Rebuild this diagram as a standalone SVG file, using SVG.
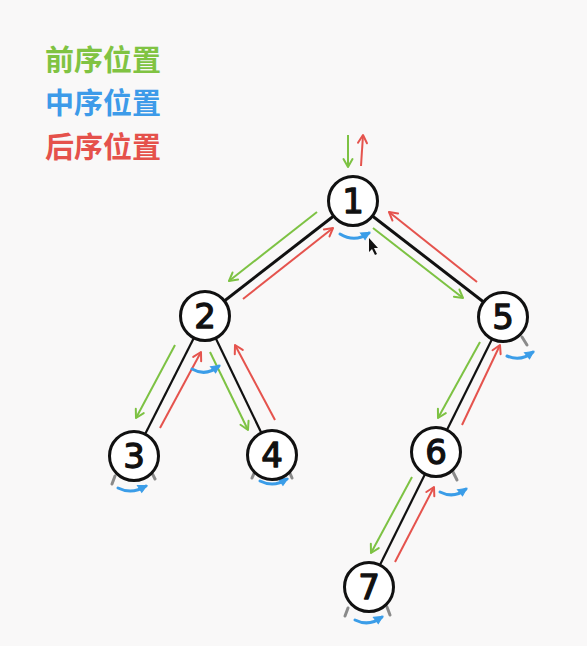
<svg xmlns="http://www.w3.org/2000/svg" width="587" height="646" viewBox="0 0 587 646">
<defs>
<style>
.node circle{fill:#ffffff;stroke:#111;stroke-width:3}
.node text{font-family:"DejaVu Sans","Liberation Sans",sans-serif;font-size:34px;font-weight:normal;fill:#111;stroke:#111;stroke-width:1.3;stroke-linejoin:round;text-anchor:middle}
.edge{stroke:#111;stroke-width:2.2;fill:none}
.edge.thick{stroke-width:3}
.g{stroke:#7dc243;stroke-width:2;fill:none;marker-end:url(#mg)}
.r{stroke:#e5534d;stroke-width:2;fill:none;marker-end:url(#mr)}
.b{stroke:#3b9de8;stroke-width:3;fill:none;marker-end:url(#mb);stroke-linecap:round}
.stub{stroke:#8a8a8a;stroke-width:3;stroke-linecap:round}
.legend{font-family:"Noto Sans CJK SC","Noto Sans",sans-serif;font-size:29px;font-weight:bold}
</style>
<marker id="mg" markerUnits="userSpaceOnUse" markerWidth="14" markerHeight="14" viewBox="-10 -7 14 14" refX="0" refY="0" orient="auto"><path d="M-8,-4.5 L0,0 L-8,4.5" fill="none" stroke="#7dc243" stroke-width="2" stroke-linecap="round" stroke-linejoin="round"/></marker>
<marker id="mr" markerUnits="userSpaceOnUse" markerWidth="14" markerHeight="14" viewBox="-10 -7 14 14" refX="0" refY="0" orient="auto"><path d="M-8,-4.5 L0,0 L-8,4.5" fill="none" stroke="#e5534d" stroke-width="2" stroke-linecap="round" stroke-linejoin="round"/></marker>
<marker id="mb" markerUnits="userSpaceOnUse" markerWidth="14" markerHeight="14" viewBox="-10 -7 14 14" refX="0" refY="0" orient="auto"><path d="M-7,-5 L1,0 L-7,3 Z" fill="#3b9de8" stroke="#3b9de8" stroke-width="1"/></marker>
</defs>
<rect width="587" height="646" fill="#f9f8f8"/>

<g id="legend">
<text class="legend" x="45" y="71" fill="#80c342">前序位置</text>
<text class="legend" x="45" y="114" fill="#3d9be9">中序位置</text>
<text class="legend" x="45" y="158" fill="#e5514b">后序位置</text>
</g>

<g id="connectors">
<line class="edge thick" x1="353" y1="201" x2="205" y2="316"/>
<line class="edge thick" x1="353" y1="201" x2="503" y2="317"/>
<line class="edge" x1="205" y1="316" x2="134" y2="456"/>
<line class="edge" x1="205" y1="316" x2="272" y2="455"/>
<line class="edge" x1="503" y1="317" x2="436" y2="452"/>
<line class="edge" x1="436" y1="452" x2="369" y2="587"/>
</g>

<g id="traversal">
<line class="g" x1="348" y1="135" x2="348" y2="167"/>
<line class="r" x1="361" y1="166" x2="363" y2="135"/>
<line class="g" x1="317" y1="212" x2="229" y2="281"/>
<line class="r" x1="243" y1="299" x2="333" y2="228"/>
<line class="g" x1="373" y1="228" x2="463" y2="298"/>
<line class="r" x1="477" y1="282" x2="389" y2="212"/>
<line class="g" x1="175" y1="345" x2="136" y2="418"/>
<line class="r" x1="160" y1="428" x2="201" y2="352"/>
<line class="g" x1="210" y1="352" x2="248" y2="430"/>
<line class="r" x1="275" y1="420" x2="235" y2="345"/>
<line class="g" x1="480" y1="342" x2="438" y2="418"/>
<line class="r" x1="462" y1="425" x2="500" y2="345"/>
<line class="g" x1="412" y1="477" x2="371" y2="553"/>
<line class="r" x1="395" y1="562" x2="434" y2="487"/>
<path class="b" d="M340,234 Q355,243 369,233"/>
<path class="b" d="M192,369 Q206,377 219,366"/>
<path class="b" d="M118,488 Q132,495 146,486"/>
<path class="b" d="M260,481 Q274,488 287,479"/>
<path class="b" d="M507,356 Q521,362 533,352"/>
<path class="b" d="M440,492 Q454,499 466,489"/>
<path class="b" d="M355,620 Q369,627 382,617"/>
<line class="stub" x1="112" y1="484" x2="115" y2="476"/>
<line class="stub" x1="151" y1="471" x2="155" y2="479"/>
<line class="stub" x1="252" y1="478" x2="255" y2="471"/>
<line class="stub" x1="289" y1="471" x2="292" y2="478"/>
<line class="stub" x1="522" y1="337" x2="527" y2="345"/>
<line class="stub" x1="453" y1="472" x2="457" y2="480"/>
<line class="stub" x1="345" y1="616" x2="348" y2="608"/>
<line class="stub" x1="387" y1="607" x2="390" y2="615"/>
</g>

<g id="node1" class="node"><circle cx="353" cy="201" r="24.5"/><text x="353" y="213">1</text></g>
<g id="node2" class="node"><circle cx="205" cy="316" r="24.5"/><text x="205" y="328">2</text></g>
<g id="node5" class="node"><circle cx="503" cy="317" r="24.5"/><text x="503" y="329">5</text></g>
<g id="node3" class="node"><circle cx="134" cy="456" r="24.5"/><text x="134" y="468">3</text></g>
<g id="node4" class="node"><circle cx="272" cy="455" r="24.5"/><text x="272" y="467">4</text></g>
<g id="node6" class="node"><circle cx="436" cy="452" r="24.5"/><text x="436" y="464">6</text></g>
<g id="node7" class="node"><circle cx="369" cy="587" r="24.5"/><text x="369" y="599">7</text></g>

<polygon points="369,238 369,252 372,249 375,255 377,254 374,248 378,248" fill="#111"/>
</svg>
